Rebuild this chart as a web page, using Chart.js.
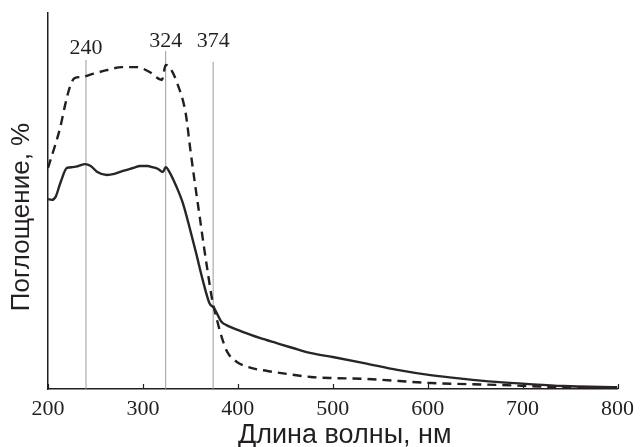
<!DOCTYPE html>
<html>
<head>
<meta charset="utf-8">
<script src="https://cdn.jsdelivr.net/npm/chart.js@4/dist/chart.umd.min.js"></script>
<style>
  html, body { margin: 0; padding: 0; background: #ffffff; }
  #wrap { width: 641px; height: 447px; }
</style>
</head>
<body>
<div id="wrap"><canvas id="c" width="641" height="447"></canvas></div>
<script>
// ---- Data ----
const xTitle = "Длина волны, нм";
const yTitle = "Поглощение, %";
const xTicks = [200, 300, 400, 500, 600, 700, 800];

// Solid curve
const solidNm = [200, 204, 208, 213, 220, 226, 232, 239, 245, 252, 262, 270, 279, 290, 297, 305, 310, 316, 321, 324, 328, 335, 342, 349, 356, 363, 370, 375, 383, 388, 405, 423, 441, 458, 476, 500, 533, 568, 603, 638, 672, 707, 743, 795, 800];
const solidAbs = [50.5, 50.3, 51.1, 54.8, 58.8, 59.0, 59.3, 59.8, 59.3, 57.7, 56.9, 57.2, 58.0, 58.8, 59.3, 59.3, 59.0, 58.5, 57.7, 59.0, 57.7, 54.0, 49.5, 43.1, 36.2, 29.0, 22.9, 21.5, 17.8, 17.0, 15.2, 13.6, 12.2, 10.9, 9.6, 8.5, 6.9, 5.1, 3.7, 2.7, 1.9, 1.3, 0.8, 0.5, 0.5];

// Dashed curve
const dashedNm = [200, 207, 213, 218, 223, 228, 236, 247, 262, 278, 294, 307, 320, 324, 330, 336, 345, 350, 355, 360, 364, 368, 373, 378, 383, 389, 399, 414, 431, 452, 477, 500, 533, 603, 672, 743, 800];
const dashedAbs = [58.8, 64.4, 69.7, 75.5, 80.3, 82.7, 83.0, 83.8, 84.8, 85.6, 85.6, 84.3, 82.2, 86.2, 84.8, 81.4, 73.4, 63.6, 54.3, 45.5, 38.3, 31.6, 23.7, 18.4, 13.8, 9.8, 7.2, 5.6, 4.8, 4.0, 3.2, 2.9, 2.7, 1.6, 1.1, 0.5, 0.4];

// Marked peaks: wavelength, top of the marker line, height of the label
const peakNm = [240, 324, 374];
const peakLineTop = [87.5, 89.9, 87.0];
const peakLabelAt = [90.7, 92.6, 92.6];

// ---- Build datasets ----
const INK = '#231f20';
const SERIF = '"Liberation Serif", "Times New Roman", serif';
const SANS = '"Liberation Sans", Arial, sans-serif';
function pairs(xs, ys) { return xs.map((x, i) => ({ x: x, y: ys[i] })); }

const datasets = [];
peakNm.forEach((p, i) => {
  datasets.push({
    data: [{ x: p, y: 0 }, { x: p, y: peakLineTop[i] }],
    borderColor: '#9b9b9b', borderWidth: 1, pointRadius: 0, tension: 0, order: 3
  });
});
datasets.push({
  data: pairs(dashedNm, dashedAbs),
  borderColor: INK, borderWidth: 2.4, borderDash: [9, 6], pointRadius: 0,
  cubicInterpolationMode: 'monotone', order: 2
});
datasets.push({
  data: pairs(solidNm, solidAbs),
  borderColor: '#2a2426', borderWidth: 2.4, pointRadius: 0,
  cubicInterpolationMode: 'monotone', order: 1
});

// ---- Plugins ----
const extras = {
  id: 'extras',
  afterDatasetsDraw(chart) {
    const { ctx, chartArea } = chart;
    const xs = chart.scales.x, ys = chart.scales.y;
    ctx.save();
    // inner tick marks on the x axis
    ctx.strokeStyle = INK; ctx.lineWidth = 1.2;
    xTicks.forEach(v => {
      const px = Math.round(xs.getPixelForValue(v)) + 0.5;
      ctx.beginPath();
      ctx.moveTo(px, chartArea.bottom);
      ctx.lineTo(px, chartArea.bottom - 5);
      ctx.stroke();
    });
    // peak labels
    ctx.fillStyle = INK;
    ctx.font = '22px ' + SERIF;
    ctx.textAlign = 'center';
    ctx.textBaseline = 'middle';
    peakNm.forEach((p, i) => {
      ctx.fillText(String(p), xs.getPixelForValue(p), ys.getPixelForValue(peakLabelAt[i]));
    });
    // x axis title
    ctx.font = '27px ' + SANS;
    ctx.fillText(xTitle, (chartArea.left + chartArea.right) / 2 + 12, chartArea.bottom + 47);
    // y axis title
    ctx.translate(22, (chartArea.top + chartArea.bottom) / 2 + 16);
    ctx.rotate(-Math.PI / 2);
    ctx.font = '26px ' + SANS;
    ctx.fillText(yTitle, 0, 0);
    ctx.restore();
  }
};

new Chart(document.getElementById('c'), {
  type: 'line',
  data: { datasets: datasets },
  options: {
    responsive: false,
    devicePixelRatio: 1,
    animation: false,
    layout: { padding: { left: 0, right: 22, top: 13, bottom: 0 } },
    plugins: { legend: { display: false }, tooltip: { enabled: false } },
    scales: {
      x: {
        type: 'linear', min: 200, max: 800,
        afterBuildTicks(s) { s.ticks = xTicks.map(v => ({ value: v })); },
        ticks: {
          color: INK, padding: 7, maxRotation: 0,
          font: { family: SERIF, size: 22 }
        },
        grid: { drawOnChartArea: false, drawTicks: false },
        border: { display: true, color: INK, width: 1.5 },
        title: { display: false },
        afterFit(s) { s.height = 58; }
      },
      y: {
        type: 'linear', min: 0, max: 100,
        ticks: { display: false },
        grid: { display: false, drawTicks: false },
        border: { display: true, color: INK, width: 1.5 },
        afterFit(s) { s.width = 48; }
      }
    }
  },
  plugins: [extras]
});
</script>
</body>
</html>
